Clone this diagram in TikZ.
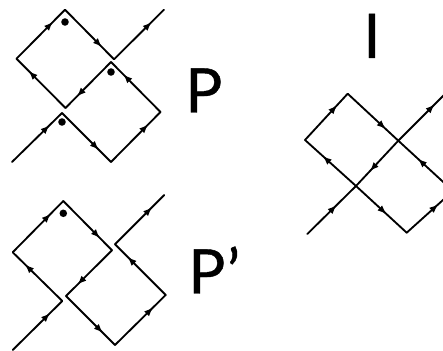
\documentclass[tikz,border=0pt]{standalone}
\usepackage{fontspec}
\newfontfamily\labelfont[FakeBold=0.7]{Lato}
\usetikzlibrary{decorations.markings}
\tikzset{
	flow/.style={line width=1.05pt, line cap=round, postaction={decorate, decoration={markings, mark=at position #1 with {\arrow[scale=0.85]{latex}}}}},
	flow/.default=0.75,
	spot/.style={circle, fill=black, inner sep=0pt, minimum size=4.3pt},
	letter/.style={anchor=base west, inner sep=0pt, font=\labelfont\fontsize{35}{35}\selectfont},
}
\begin{document}
\begin{tikzpicture}[x=0.02cm, y=-0.02cm]
	\clip (0,0) rectangle (443,351);
	
	% P
	\coordinate (pa) at (12,162);
	\coordinate (pb) at (62,113);
	\coordinate (pc) at (111,162);
	\coordinate (pd) at (160.5,112);
	\coordinate (pe) at (111,62);
	\coordinate (pf) at (65.5,108);
	\coordinate (pg) at (16.5,58.7);
	\coordinate (ph) at (65,9.7);
	\coordinate (pi) at (114,59.3);
	\coordinate (pj) at (164,9.7);
	\draw[flow] (pa) -- (pb);
	\draw[flow] (pb) -- (pc);
	\draw[flow] (pc) -- (pd);
	\draw[flow] (pd) -- (pe);
	\draw[flow] (pe) -- (pf);
	\draw[flow] (pf) -- (pg);
	\draw[flow] (pg) -- (ph);
	\draw[flow] (ph) -- (pi);
	\draw[flow] (pi) -- (pj);
	\node[spot] (pdota) at (65,22) {};
	\node[spot] (pdotb) at (111,72) {};
	\node[spot] (pdotc) at (62,122) {};
	\node[letter] (plabel) at (185,112.5) {P};
	
	% P'
	\coordinate (qa) at (12.7,350);
	\coordinate (qb) at (62.3,301);
	\coordinate (qc) at (12.7,252.3);
	\coordinate (qd) at (63.3,201);
	\coordinate (qe) at (112,250.3);
	\coordinate (qf) at (66,296);
	\coordinate (qg) at (115,345);
	\coordinate (qh) at (165.7,295);
	\coordinate (qi) at (115,244.3);
	\coordinate (qj) at (164.3,195);
	\draw[flow] (qa) -- (qb);
	\draw[flow] (qb) -- (qc);
	\draw[flow] (qc) -- (qd);
	\draw[flow] (qd) -- (qe);
	\draw[flow] (qe) -- (qf);
	\draw[flow] (qf) -- (qg);
	\draw[flow] (qg) -- (qh);
	\draw[flow] (qh) -- (qi);
	\draw[flow] (qi) -- (qj);
	\node[spot] (qdot) at (63.3,213.3) {};
	\node[letter] (qlabel) at (188,293.5) {P\kern1pt’};
	
	% I
	\coordinate (ra) at (307.3,234);
	\coordinate (rb) at (356,186);
	\coordinate (rc) at (398.3,140.7);
	\coordinate (rd) at (450,89);
	\coordinate (re) at (305,140);
	\coordinate (rf) at (347.7,93.7);
	\coordinate (rg) at (406.7,232.7);
	\coordinate (rh) at (453,191);
	\draw[flow=0.6] (ra) -- (rb);
	\draw[flow=0.67] (rc) -- (rb);
	\draw[flow=0.65] (rb) -- (re);
	\draw[flow] (re) -- (rf);
	\draw[flow] (rf) -- (rc);
	\draw[flow=0.7] (rc) -- (rd);
	\draw[flow=0.6] (rb) -- (rg);
	\draw[flow=0.68] (rg) -- (rh);
	\draw[flow=0.64] (rh) -- (rc);
	\node[letter] (rlabel) at (363,58) {I};
\end{tikzpicture}
\end{document}
